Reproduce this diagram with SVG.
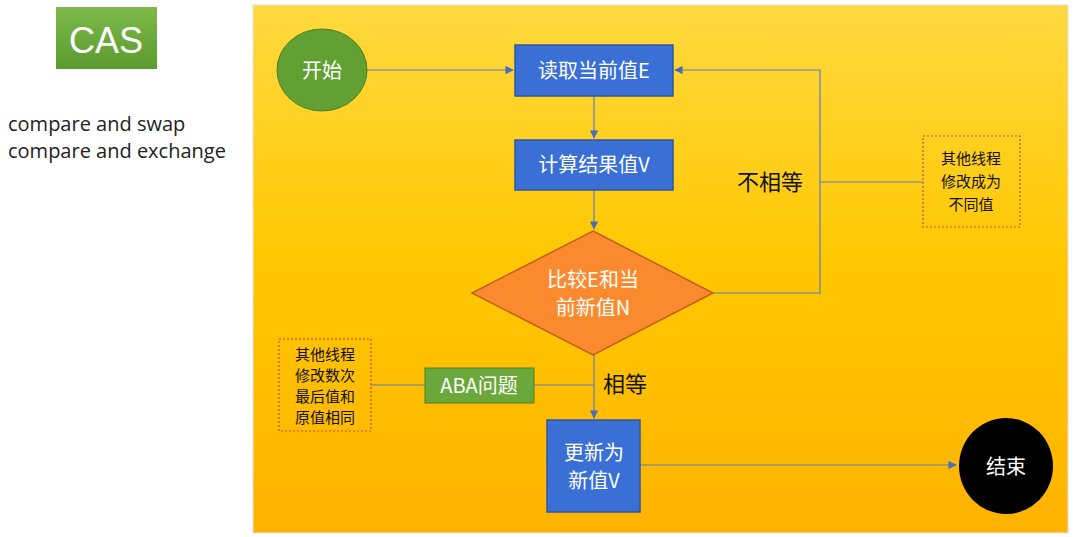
<svg xmlns="http://www.w3.org/2000/svg" width="1075" height="537" viewBox="0 0 1075 537">
<style>
.cn{font-family:"Noto Sans CJK SC","Liberation Sans",sans-serif}
.w{fill:#fff;font-size:20px}
.k{fill:#111;font-size:22px}
.s{fill:#111;font-size:15px}
.box{fill:#3A70D6;stroke:#2F559E;stroke-width:1.5}
.ln{stroke:#5B7FC4;stroke-width:1.2;fill:none}
.dash{fill:none;stroke:#C0504D;stroke-width:1.2;stroke-dasharray:2 2}
</style>
<defs>
<linearGradient id="g" x1="0" y1="0" x2="0" y2="1"><stop offset="0" stop-color="#FFD93F"/><stop offset="0.5" stop-color="#FFC700"/><stop offset="1" stop-color="#FFB300"/></linearGradient>
<linearGradient id="cg" x1="0" y1="0" x2="0" y2="1"><stop offset="0" stop-color="#7DBA4A"/><stop offset="1" stop-color="#5C9A2E"/></linearGradient>
<marker id="a" viewBox="0 0 10 10" refX="9" refY="5" markerWidth="7" markerHeight="7" orient="auto"><path d="M0,0L10,5L0,10z" fill="#4A6FB8"/></marker>
</defs>
<rect width="1075" height="537" fill="#fff"/>
<g id="cas"><rect x="56" y="7" width="101" height="62" fill="url(#cg)"/><text x="106" y="53" text-anchor="middle" font-family="Liberation Sans,sans-serif" font-size="36" fill="#fff">CAS</text></g>
<text x="8" y="131" font-family="Open Sans,Liberation Sans,sans-serif" font-size="20" fill="#222">compare and swap</text>
<text x="8" y="158" font-family="Open Sans,Liberation Sans,sans-serif" font-size="20" fill="#222">compare and exchange</text>
<rect x="253" y="5" width="815" height="528" fill="url(#g)" stroke="#e0e0e0"/>
<g id="connectors">
<path class="ln" d="M367,70H513" marker-end="url(#a)"/>
<path class="ln" d="M594,96V138" marker-end="url(#a)"/>
<path class="ln" d="M594,190V229" marker-end="url(#a)"/>
<path class="ln" d="M713,293H820V70H675" marker-end="url(#a)"/>
<path class="ln" d="M820,182H923"/>
<path class="ln" d="M594,355V418" marker-end="url(#a)"/>
<path class="ln" d="M534,385H594"/>
<path class="ln" d="M371,385H425"/>
<path class="ln" d="M640,465H956" marker-end="url(#a)"/>
<text class="cn k" x="770" y="190" text-anchor="middle">不相等</text>
<text class="cn k" x="625" y="392" text-anchor="middle">相等</text>
</g>
<g id="start"><ellipse cx="322" cy="70" rx="45" ry="41" fill="#62A033" stroke="#4E7F27"/><text class="cn w" x="322" y="78" text-anchor="middle">开始</text></g>
<g id="read"><rect class="box" x="515" y="45" width="158" height="51"/><text class="cn w" x="594" y="78" text-anchor="middle">读取当前值E</text></g>
<g id="calc"><rect class="box" x="515" y="140" width="158" height="50"/><text class="cn w" x="594" y="172" text-anchor="middle">计算结果值V</text></g>
<g id="cmp"><polygon points="593,231 713,293 593,355 472,293" fill="#FB8A2E" stroke="#C05F1A" stroke-width="1.5"/><text class="cn w" x="593" y="287" text-anchor="middle">比较E和当</text><text class="cn w" x="593" y="315" text-anchor="middle">前新值N</text></g>
<g id="update"><rect class="box" x="547" y="420" width="93" height="92"/><text class="cn w" x="594" y="460" text-anchor="middle">更新为</text><text class="cn w" x="594" y="488" text-anchor="middle">新值V</text></g>
<g id="end"><ellipse cx="1006" cy="466" rx="47" ry="48" fill="#000"/><text class="cn w" x="1006" y="474" text-anchor="middle">结束</text></g>
<g id="aba"><rect x="425" y="368" width="109" height="35" fill="#6AA83B" stroke="#4E7F27"/><text class="cn w" x="479" y="393" text-anchor="middle">ABA问题</text></g>
<g id="note1"><rect class="dash" x="923" y="136" width="97" height="91"/><text class="cn s" x="971" y="164" text-anchor="middle">其他线程</text><text class="cn s" x="971" y="187" text-anchor="middle">修改成为</text><text class="cn s" x="971" y="210" text-anchor="middle">不同值</text></g>
<g id="note2"><rect class="dash" x="279" y="339" width="92" height="92"/><text class="cn s" x="325" y="360" text-anchor="middle">其他线程</text><text class="cn s" x="325" y="381" text-anchor="middle">修改数次</text><text class="cn s" x="325" y="402" text-anchor="middle">最后值和</text><text class="cn s" x="325" y="423" text-anchor="middle">原值相同</text></g>
</svg>
